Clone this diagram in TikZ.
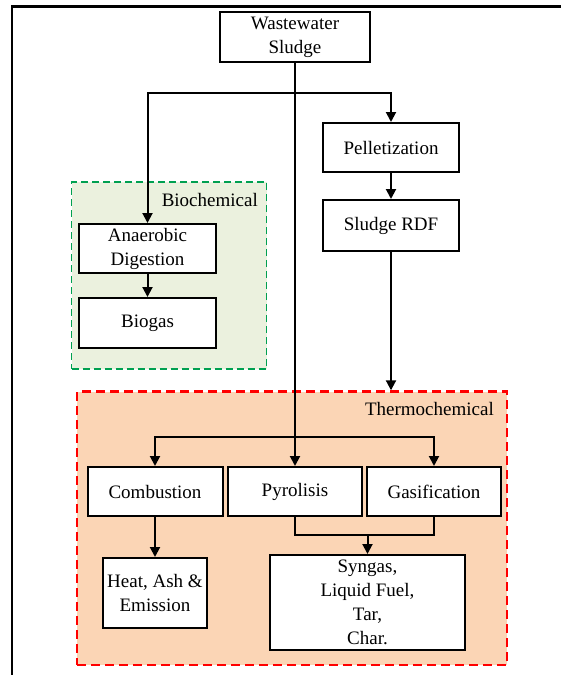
\documentclass[tikz,border=0pt]{standalone}
\usepackage{fontspec}
\setmainfont{Liberation Serif}
\usetikzlibrary{arrows.meta}
\definecolor{biofill}{HTML}{EBF1DE}
\definecolor{bioline}{HTML}{00A050}
\definecolor{thermofill}{HTML}{FBD5B5}
\definecolor{thermoline}{HTML}{FF0000}
\tikzset{
  box/.style={draw=black, line width=2pt, fill=white, rectangle, align=center,
    inner sep=0pt, font=\fontsize{19}{24}\selectfont},
  arr/.style={line width=2pt, -{Triangle[length=10pt,width=10pt]}},
  ln/.style={line width=2pt},
  region/.style={rectangle, inner sep=0pt},
  lbl/.style={anchor=east, inner sep=0pt, font=\fontsize{19}{22}\selectfont},
}
\begin{document}
\begin{tikzpicture}[x=1pt,y=-1pt]
\useasboundingbox (0,0) rectangle (561,675);
% outer frame (top and left edges)
\draw[line width=2.4pt] (561,6.5) -- (12,6.5) -- (12,675);
% regions
\node[region, fill=biofill, draw=bioline, line width=1.3pt, dash pattern=on 7pt off 4pt,
  minimum width=195pt, minimum height=187pt] (bio) at (169,275.5) {};
\node[region, fill=thermofill, draw=thermoline, line width=2.4pt, dash pattern=on 9pt off 5pt,
  minimum width=430pt, minimum height=273.5pt] (thermo) at (292,528.25) {};
\node[lbl] (biolbl) at (258,200) {Biochemical};
\node[lbl] (thermolbl) at (494,409) {Thermochemical};
% boxes
\node[box, minimum width=150pt, minimum height=50pt] (ww) at (295,37) {Wastewater\\Sludge};
\node[box, minimum width=136pt, minimum height=49pt] (pel) at (391,147.5) {Pelletization};
\node[box, minimum width=136pt, minimum height=51pt] (rdf) at (391,225.5) {Sludge RDF};
\node[box, minimum width=137pt, minimum height=49pt] (ad) at (147.5,248.5) {Anaerobic\\Digestion};
\node[box, minimum width=137pt, minimum height=50pt] (bg) at (147.5,323) {Biogas};
\node[box, minimum width=135pt, minimum height=49pt] (comb) at (155,491.5) {Combustion};
\node[box, minimum width=134pt, minimum height=49pt] (pyr) at (295,491.5) {Pyrolisis};
\node[box, minimum width=134pt, minimum height=49pt] (gas) at (434,491.5) {Gasification};
\node[box, minimum width=104pt, minimum height=70pt] (heat) at (155,593) {Heat, Ash \&\\Emission};
\node[box, minimum width=195pt, minimum height=95pt] (syn) at (367.5,602.5) {Syngas,\\Liquid Fuel,\\Tar,\\Char.};
% junction points
\coordinate (br) at (295,93);
\coordinate (tb) at (295,437);
\coordinate (jn) at (367.5,535);
% connectors
\draw[arr] (ww.south) -- (pyr.north);
\draw[arr] (br) -| (ad.north);
\draw[arr] (br) -| (pel.north);
\draw[arr] (pel.south) -- (rdf.north);
\draw[arr] (ad.south) -- (bg.north);
\draw[arr] (rdf.south) -- (rdf.south |- thermo.north);
\draw[arr] (tb) -| (comb.north);
\draw[arr] (tb) -| (gas.north);
\draw[arr] (comb.south) -- (heat.north);
\draw[ln] (pyr.south) |- (jn) -| (gas.south);
\draw[arr] (jn) -- (syn.north);
\end{tikzpicture}
\end{document}
